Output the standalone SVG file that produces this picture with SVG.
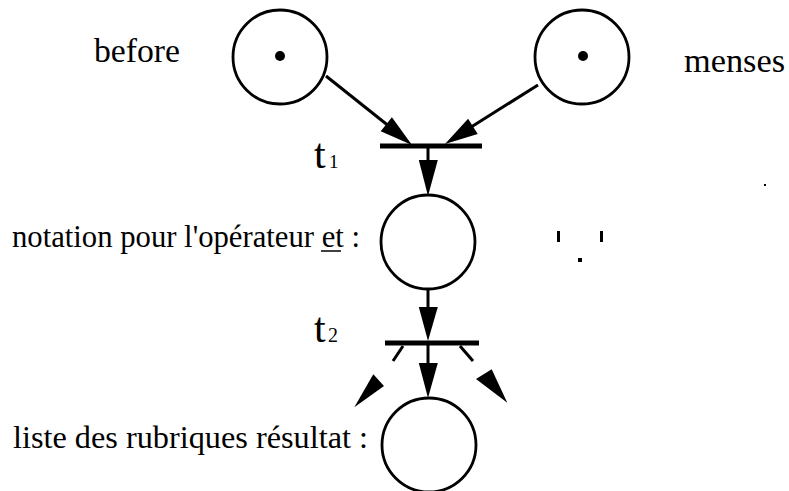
<svg xmlns="http://www.w3.org/2000/svg" width="789" height="491" viewBox="0 0 789 491">
<style>
.place{fill:#fff;stroke:#000;stroke-width:2.8}
.tok{fill:#000}
.bar{stroke:#000;stroke-width:5}
.arc{stroke:#000;stroke-width:3;fill:none}
.head{fill:#000}
text{font-family:'Liberation Serif','DejaVu Serif',serif;fill:#000}
.lbl{font-size:31px}
.big{font-size:33px}
.t{font-size:42px}
.sub{font-size:19px}
</style>
<rect width="789" height="491" fill="#fff"/>
<g id="connectors">
<line class="arc" x1="326" y1="76" x2="390" y2="127"/>
<polygon class="head" points="412,145 380.7,131.3 391.9,117.3"/>
<line class="arc" x1="538" y1="85" x2="468" y2="129"/>
<polygon class="head" points="445,144 477.7,133.9 468.1,118.7"/>
<line class="arc" x1="428" y1="146" x2="428" y2="165"/>
<polygon class="head" points="428,196 418.8,160 437.8,160"/>
<line class="arc" x1="428" y1="289" x2="428" y2="310"/>
<polygon class="head" points="428,341 418.8,307 437.8,307"/>
<line class="arc" x1="428" y1="345" x2="428" y2="366"/>
<polygon class="head" points="428,398 418.8,363 437.8,363"/>
<line class="arc" stroke-width="2.6" x1="403" y1="346" x2="393" y2="361"/>
<line class="arc" stroke-width="2.6" x1="460" y1="346" x2="473" y2="361"/>
<polygon class="head" points="354.3,407.3 373.3,374.3 384,386"/>
<polygon class="head" points="507.3,402.7 476,379 491.7,369.3"/>
</g>
<g id="place-before">
<circle class="place" cx="280" cy="57" r="47"/>
<circle class="tok" cx="280" cy="56" r="5"/>
<text class="big" x="94" y="62" textLength="86" lengthAdjust="spacingAndGlyphs">before</text>
</g>
<g id="place-menses">
<circle class="place" cx="582" cy="57" r="47"/>
<circle class="tok" cx="583" cy="56" r="5"/>
<text class="big" x="684" y="72" textLength="101" lengthAdjust="spacingAndGlyphs">menses</text>
</g>
<g id="transition-t1">
<line class="bar" x1="380" y1="146" x2="482" y2="146"/>
<text class="t" x="314" y="168">t</text>
<text class="sub" x="329" y="168">1</text>
</g>
<g id="place-et">
<circle class="place" cx="428" cy="242" r="47"/>
<text class="lbl" x="12" y="247" textLength="348" lengthAdjust="spacingAndGlyphs">notation pour l'opérateur et :</text>
<line x1="321" y1="251" x2="341" y2="251" stroke="#000" stroke-width="1.5"/>
</g>
<g id="transition-t2">
<line class="bar" x1="385" y1="343" x2="479" y2="343"/>
<text class="t" x="314" y="342">t</text>
<text class="sub" x="328" y="342" style="font-size:20px">2</text>
</g>
<g id="place-resultat">
<circle class="place" cx="429" cy="445" r="47"/>
<text class="lbl" x="13" y="448" textLength="355" lengthAdjust="spacingAndGlyphs">liste des rubriques résultat :</text>
</g>
<g id="marks">
<rect x="557" y="231" width="3" height="11" fill="#000"/>
<rect x="600" y="231" width="3" height="11" fill="#000"/>
<rect x="578" y="258" width="4" height="4" fill="#000"/>
<rect x="764" y="184" width="2" height="2" fill="#000"/>
</g>
</svg>
